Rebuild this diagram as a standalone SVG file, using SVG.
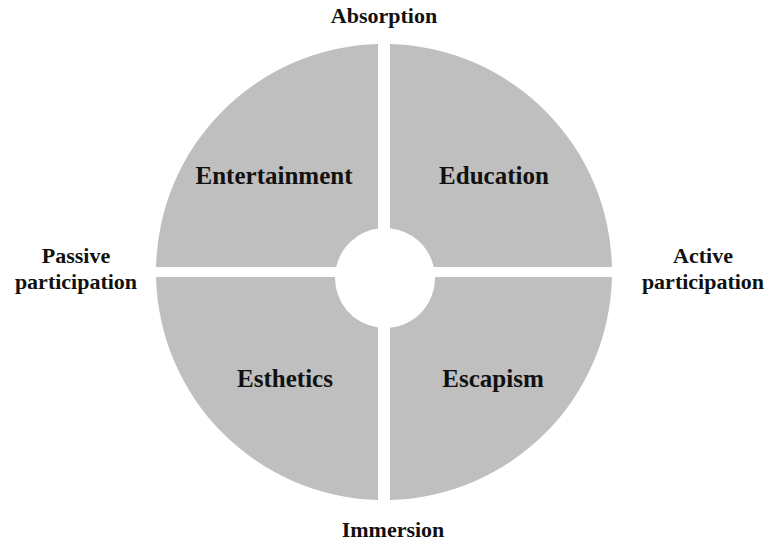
<svg xmlns="http://www.w3.org/2000/svg" width="766" height="542" viewBox="0 0 766 542">
  <style>
    .quad { fill: #bfbfbf; stroke: none; }
    .qlabel { font-family: "Liberation Serif", "Times New Roman", serif; font-weight: bold; font-size: 25px; fill: #111; text-anchor: middle; }
    .axis { font-family: "Liberation Serif", "Times New Roman", serif; font-weight: bold; font-size: 22px; fill: #111; text-anchor: middle; }
  </style>
  <rect width="766" height="542" fill="#ffffff"/>

  <!-- Four quadrants of the ring -->
  <g id="entertainment">
    <path class="quad" d="M378,44.08 A228,228 0 0 0 156.05,267 L336.22,267 A50,50 0 0 1 378,228.49 Z"/>
    <text class="qlabel" x="274" y="184">Entertainment</text>
  </g>
  <g id="education">
    <path class="quad" d="M390,44.08 A228,228 0 0 1 611.95,267 L433.78,267 A50,50 0 0 0 390,228.25 Z"/>
    <text class="qlabel" x="494" y="184">Education</text>
  </g>
  <g id="escapism">
    <path class="quad" d="M611.95,277 A228,228 0 0 1 390,499.92 L390,327.75 A50,50 0 0 0 434.99,277 Z"/>
    <text class="qlabel" x="493" y="387">Escapism</text>
  </g>
  <g id="esthetics">
    <path class="quad" d="M378,499.92 A228,228 0 0 1 156.05,277 L335.01,277 A50,50 0 0 0 378,327.51 Z"/>
    <text class="qlabel" x="285" y="387">Esthetics</text>
  </g>

  <!-- Axis labels -->
  <g id="absorption">
    <text class="axis" x="384" y="23">Absorption</text>
  </g>
  <g id="immersion">
    <text class="axis" x="393" y="537">Immersion</text>
  </g>
  <g id="passive">
    <text class="axis" x="76" y="263">Passive</text>
    <text class="axis" x="76" y="289">participation</text>
  </g>
  <g id="active">
    <text class="axis" x="703" y="263">Active</text>
    <text class="axis" x="703" y="289">participation</text>
  </g>
</svg>
